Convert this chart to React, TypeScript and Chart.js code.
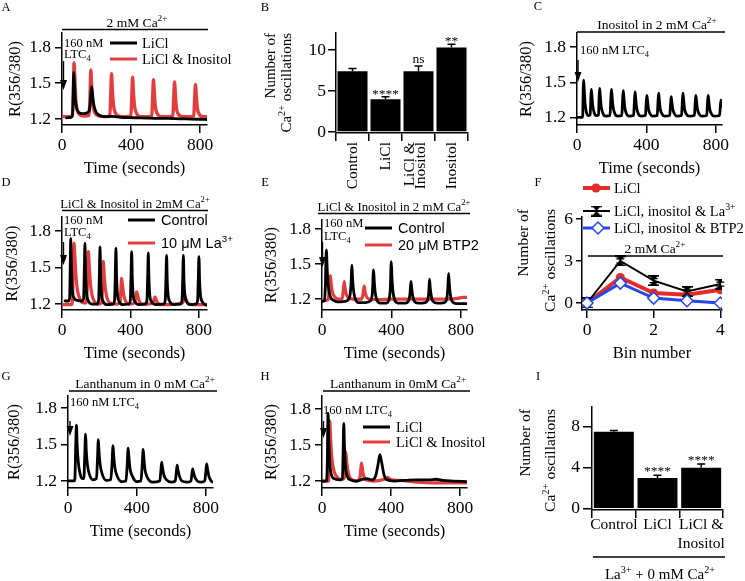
import React, { useEffect, useRef } from "react";
import { Chart, registerables } from "chart.js";

Chart.register(...registerables);

const PAGE_W = 745;
const PAGE_H = 581;
const SERIF = '"Liberation Serif", "Times New Roman", serif';
const SANS = '"Liberation Sans", Arial, sans-serif';
const BLACK = "#000000";
const TRACE_RED = "#e43d3d";
const F_RED = "#e42a2a";
const F_BLUE = "#2846e6";
const TICK_FONT = 17.5;

type Pt = [number, number];

/* ---------------- shared ticks ---------------- */
const TIME_TICKS = [0, 400, 800];
const RATIO_TICKS = [1.2, 1.5, 1.8];

/* ---------------- A ---------------- */
const A_LICL: Pt[] = [
  [27, 1.21], [45, 1.212], [58, 1.22], [63, 1.3], [68, 1.59], [72, 1.5], [77, 1.37], [85, 1.29], [98, 1.255],
  [118, 1.245], [140, 1.25], [157, 1.27], [164, 1.34], [171, 1.47], [176, 1.42], [183, 1.33], [194, 1.27],
  [212, 1.235], [245, 1.22], [290, 1.222], [340, 1.215], [390, 1.212], [440, 1.21], [490, 1.208], [550, 1.205],
  [610, 1.205], [680, 1.202], [750, 1.2], [800, 1.198], [840, 1.196],
];
const A_LICL_INOSITOL: Pt[] = [
  [0, 1.22], [40, 1.22], [61, 1.23], [65, 1.4], [70, 1.67], [75, 1.52], [80, 1.36], [89, 1.27], [100, 1.24],
  [130, 1.225], [157, 1.23], [162, 1.38], [167, 1.61], [172, 1.47], [178, 1.33], [188, 1.26], [200, 1.235],
  [240, 1.22], [277, 1.225], [282, 1.38], [287, 1.58], [292, 1.44], [298, 1.32], [309, 1.25], [330, 1.225],
  [370, 1.22], [399, 1.225], [404, 1.37], [409, 1.55], [414, 1.42], [420, 1.31], [431, 1.25], [455, 1.22],
  [500, 1.22], [520, 1.225], [525, 1.37], [530, 1.53], [535, 1.41], [541, 1.3], [552, 1.245], [575, 1.22],
  [620, 1.22], [642, 1.225], [647, 1.36], [652, 1.51], [657, 1.4], [663, 1.29], [674, 1.24], [700, 1.22],
  [745, 1.22], [763, 1.225], [768, 1.35], [773, 1.49], [778, 1.39], [784, 1.29], [795, 1.24], [815, 1.22],
  [840, 1.22],
];

/* ---------------- B ---------------- */
const B_CATEGORIES = ["Control", "LiCl", "LiCl & Inositol", "Inositol"];
const B_LABEL_LINES = [["Control"], ["LiCl"], ["LiCl &", "Inositol"], ["Inositol"]];
const B_MEANS = [7.4, 4.0, 7.4, 10.3];
const B_ERRORS = [0.35, 0.3, 0.65, 0.4];
const B_MARKS = ["", "****", "ns", "**"];
const B_TICKS = [0, 5, 10];

/* ---------------- C ---------------- */
const C_INOSITOL: Pt[] = [
  [0, 1.205], [30, 1.205], [33, 1.22], [36, 1.45], [38, 1.52], [41, 1.46], [46, 1.33], [54, 1.25], [64, 1.22],
  [76, 1.225], [79, 1.33], [82, 1.44], [85, 1.4], [91, 1.3], [100, 1.24], [112, 1.22], [124, 1.225], [127, 1.35],
  [130, 1.45], [133, 1.41], [139, 1.3], [149, 1.24], [165, 1.215], [190, 1.22], [194, 1.33], [198, 1.44],
  [201, 1.4], [207, 1.3], [217, 1.24], [233, 1.215], [258, 1.22], [262, 1.33], [266, 1.43], [269, 1.39],
  [275, 1.29], [285, 1.235], [301, 1.215], [326, 1.22], [330, 1.32], [334, 1.42], [337, 1.38], [343, 1.29],
  [353, 1.235], [369, 1.215], [394, 1.22], [398, 1.31], [402, 1.39], [405, 1.36], [411, 1.28], [421, 1.235],
  [437, 1.215], [462, 1.22], [466, 1.32], [470, 1.41], [473, 1.37], [479, 1.28], [489, 1.235], [505, 1.215],
  [534, 1.22], [538, 1.3], [542, 1.38], [545, 1.35], [551, 1.28], [561, 1.235], [577, 1.215], [602, 1.22],
  [606, 1.32], [610, 1.41], [613, 1.37], [619, 1.28], [629, 1.235], [645, 1.215], [676, 1.22], [680, 1.31],
  [684, 1.39], [687, 1.36], [693, 1.28], [703, 1.235], [719, 1.215], [747, 1.22], [751, 1.31], [755, 1.39],
  [758, 1.36], [764, 1.28], [774, 1.235], [790, 1.215], [821, 1.22], [825, 1.29], [829, 1.35], [832, 1.33],
  [835, 1.3],
];

/* ---------------- D ---------------- */
const D_CONTROL: Pt[] = [
  [18, 1.225], [40, 1.225], [45, 1.26], [48, 1.5], [51, 1.74], [55, 1.5], [60, 1.32], [70, 1.25], [90, 1.23],
  [115, 1.225], [126, 1.24], [130, 1.45], [134, 1.7], [138, 1.45], [143, 1.3], [153, 1.23], [175, 1.2],
  [205, 1.2], [214, 1.23], [218, 1.42], [222, 1.67], [226, 1.42], [231, 1.28], [241, 1.22], [265, 1.195],
  [298, 1.2], [307, 1.23], [311, 1.42], [315, 1.66], [319, 1.42], [324, 1.28], [334, 1.22], [358, 1.195],
  [390, 1.2], [399, 1.23], [403, 1.42], [407, 1.63], [411, 1.4], [416, 1.27], [426, 1.22], [450, 1.195],
  [487, 1.2], [496, 1.23], [500, 1.4], [504, 1.62], [508, 1.4], [513, 1.27], [523, 1.22], [550, 1.195],
  [594, 1.2], [603, 1.23], [607, 1.4], [611, 1.6], [615, 1.38], [620, 1.27], [630, 1.22], [655, 1.195],
  [692, 1.2], [701, 1.23], [705, 1.4], [709, 1.6], [713, 1.38], [718, 1.27], [728, 1.22], [750, 1.195],
  [783, 1.2], [792, 1.23], [796, 1.4], [800, 1.59], [804, 1.38], [809, 1.27], [819, 1.22], [845, 1.19],
];
const D_LANTHANUM: Pt[] = [
  [0, 1.195], [55, 1.195], [62, 1.25], [66, 1.55], [70, 1.7], [75, 1.6], [82, 1.42], [92, 1.3], [105, 1.24],
  [125, 1.21], [142, 1.21], [148, 1.35], [154, 1.63], [159, 1.52], [166, 1.37], [176, 1.27], [190, 1.22],
  [215, 1.2], [232, 1.21], [237, 1.35], [241, 1.55], [246, 1.45], [253, 1.33], [263, 1.25], [280, 1.21],
  [320, 1.2], [340, 1.22], [344, 1.32], [348, 1.41], [353, 1.36], [360, 1.28], [372, 1.22], [395, 1.2],
  [425, 1.21], [431, 1.26], [436, 1.3], [442, 1.27], [450, 1.23], [465, 1.2], [500, 1.2], [532, 1.21],
  [538, 1.24], [543, 1.26], [549, 1.24], [558, 1.21], [580, 1.195], [620, 1.195], [660, 1.2], [705, 1.21],
  [712, 1.24], [718, 1.27], [724, 1.24], [733, 1.21], [760, 1.195], [800, 1.195], [845, 1.195],
];

/* ---------------- E ---------------- */
const E_CONTROL: Pt[] = [
  [0, 1.18], [15, 1.185], [19, 1.3], [25, 1.62], [30, 1.45], [37, 1.3], [48, 1.22], [65, 1.19], [90, 1.175],
  [130, 1.18], [155, 1.2], [163, 1.25], [168, 1.35], [172, 1.49], [176, 1.38], [182, 1.27], [192, 1.2],
  [210, 1.17], [250, 1.17], [280, 1.185], [290, 1.25], [297, 1.45], [301, 1.35], [307, 1.25], [317, 1.19],
  [335, 1.165], [370, 1.165], [385, 1.19], [393, 1.28], [399, 1.52], [403, 1.38], [409, 1.26], [419, 1.19],
  [440, 1.165], [480, 1.165], [500, 1.19], [507, 1.25], [512, 1.35], [516, 1.3], [522, 1.23], [532, 1.18],
  [555, 1.165], [595, 1.17], [610, 1.2], [615, 1.26], [619, 1.37], [623, 1.3], [629, 1.23], [639, 1.18],
  [665, 1.165], [705, 1.17], [718, 1.2], [724, 1.28], [729, 1.42], [733, 1.33], [739, 1.24], [749, 1.18],
  [775, 1.16], [835, 1.16],
];
const E_BTP2: Pt[] = [
  [0, 1.19], [30, 1.19], [38, 1.22], [44, 1.33], [48, 1.4], [53, 1.33], [60, 1.26], [72, 1.22], [95, 1.2],
  [115, 1.2], [121, 1.25], [128, 1.35], [133, 1.29], [140, 1.24], [152, 1.21], [180, 1.2], [228, 1.2],
  [235, 1.23], [243, 1.31], [248, 1.26], [256, 1.22], [270, 1.2], [320, 1.195], [400, 1.2], [480, 1.2],
  [560, 1.2], [640, 1.2], [720, 1.2], [780, 1.205], [810, 1.215], [835, 1.215],
];

/* ---------------- F ---------------- */
const F_BINS = [0, 1, 2, 3, 4];
const F_LICL = [0, 1.82, 0.71, 0.59, 0.94];
const F_LA = [0, 3.0, 1.6, 0.82, 1.35];
const F_LA_ERR = [0.05, 0.15, 0.14, 0.12, 0.14];
const F_BTP2 = [0, 1.42, 0.35, 0.16, 0.0];
const F_X_TICKS = [0, 2, 4];
const F_Y_TICKS = [0, 3, 6];

/* ---------------- G ---------------- */
const G_LANTHANUM: Pt[] = [
  [2, 1.2], [35, 1.2], [40, 1.22], [45, 1.5], [49, 1.66], [53, 1.5], [60, 1.35], [70, 1.26], [82, 1.22],
  [92, 1.22], [97, 1.4], [102, 1.585], [106, 1.45], [113, 1.33], [125, 1.25], [145, 1.21], [165, 1.22],
  [171, 1.38], [176, 1.54], [180, 1.44], [187, 1.33], [200, 1.25], [222, 1.205], [248, 1.21], [255, 1.33],
  [261, 1.49], [265, 1.41], [272, 1.31], [285, 1.24], [310, 1.195], [336, 1.2], [343, 1.32], [349, 1.47],
  [353, 1.4], [360, 1.3], [373, 1.24], [398, 1.195], [423, 1.2], [430, 1.32], [436, 1.46], [440, 1.39],
  [447, 1.29], [460, 1.23], [490, 1.19], [532, 1.2], [538, 1.27], [543, 1.355], [548, 1.31], [556, 1.25],
  [570, 1.21], [600, 1.19], [622, 1.2], [628, 1.27], [633, 1.33], [638, 1.29], [646, 1.24], [660, 1.2],
  [690, 1.19], [713, 1.2], [718, 1.25], [723, 1.3], [728, 1.27], [736, 1.23], [750, 1.2], [775, 1.19],
  [793, 1.2], [799, 1.27], [804, 1.34], [809, 1.3], [817, 1.24], [830, 1.2], [841, 1.19],
];

/* ---------------- H ---------------- */
const H_LICL: Pt[] = [
  [0, 1.2], [25, 1.2], [30, 1.3], [35, 1.765], [39, 1.55], [45, 1.35], [55, 1.25], [70, 1.22], [100, 1.21],
  [118, 1.22], [122, 1.4], [126, 1.68], [130, 1.5], [136, 1.32], [146, 1.24], [165, 1.21], [200, 1.2],
  [240, 1.215], [260, 1.22], [290, 1.21], [310, 1.24], [325, 1.34], [335, 1.42], [345, 1.36], [358, 1.26],
  [375, 1.21], [420, 1.2], [480, 1.205], [550, 1.21], [620, 1.21], [660, 1.215], [700, 1.205], [760, 1.2],
  [840, 1.195],
];
const H_LICL_INOSITOL: Pt[] = [
  [0, 1.2], [38, 1.2], [42, 1.45], [45, 1.7], [50, 1.55], [58, 1.38], [70, 1.28], [90, 1.23], [110, 1.21],
  [130, 1.23], [134, 1.35], [138, 1.44], [143, 1.36], [152, 1.27], [165, 1.22], [200, 1.2], [220, 1.23],
  [225, 1.3], [229, 1.35], [234, 1.3], [242, 1.24], [255, 1.21], [300, 1.2], [360, 1.215], [380, 1.23],
  [400, 1.21], [450, 1.205], [500, 1.2], [560, 1.19], [650, 1.185], [750, 1.185], [840, 1.185],
];

/* ---------------- I ---------------- */
const I_CATEGORIES = ["Control", "LiCl", "LiCl & Inositol"];
const I_LABEL_LINES = [["Control"], ["LiCl"], ["LiCl &", "Inositol"]];
const I_MEANS = [7.5, 3.0, 4.0];
const I_ERRORS = [0.12, 0.25, 0.35];
const I_MARKS = ["", "****", "****"];
const I_TICKS = [0, 4, 8];

/* ================= drawing helpers ================= */
type Seg = { t: string; k: number };
function parseRich(s: string): Seg[] {
  const out: Seg[] = [];
  const re = /(\^|_)\{([^}]*)\}/g;
  let last = 0;
  let m: RegExpExecArray | null;
  while ((m = re.exec(s))) {
    if (m.index > last) out.push({ t: s.slice(last, m.index), k: 0 });
    out.push({ t: m[2], k: m[1] === "^" ? 1 : -1 });
    last = re.lastIndex;
  }
  if (last < s.length) out.push({ t: s.slice(last), k: 0 });
  return out;
}

function drawRich(
  ctx: CanvasRenderingContext2D, s: string, x: number, baseline: number, size: number,
  fam: string = SERIF, align: string = "left", color: string = BLACK
) {
  const segs = parseRich(s);
  const sizes = segs.map((g) => (g.k ? size * 0.68 : size));
  let total = 0;
  segs.forEach((g, i) => {
    ctx.font = `${sizes[i]}px ${fam}`;
    total += ctx.measureText(g.t).width;
  });
  let cx = align === "left" ? x : align === "center" ? x - total / 2 : x - total;
  ctx.save();
  ctx.fillStyle = color;
  ctx.textAlign = "left";
  ctx.textBaseline = "alphabetic";
  segs.forEach((g, i) => {
    ctx.font = `${sizes[i]}px ${fam}`;
    const dy = g.k === 1 ? -size * 0.42 : g.k === -1 ? size * 0.2 : 0;
    ctx.fillText(g.t, cx, baseline + dy);
    cx += ctx.measureText(g.t).width;
  });
  ctx.restore();
}
function textC(ctx: CanvasRenderingContext2D, s: string, x: number, cy: number, size: number, fam = SERIF, align = "left") {
  drawRich(ctx, s, x, cy + size * 0.33, size, fam, align);
}
function textRot(ctx: CanvasRenderingContext2D, s: string, x: number, y: number, size: number, align = "center", fam = SERIF) {
  ctx.save();
  ctx.translate(x, y);
  ctx.rotate(-Math.PI / 2);
  drawRich(ctx, s, 0, size * 0.33, size, fam, align);
  ctx.restore();
}
function hline(ctx: CanvasRenderingContext2D, x1: number, x2: number, y: number, w = 1.5, color = BLACK) {
  ctx.save();
  ctx.strokeStyle = color;
  ctx.lineWidth = w;
  ctx.beginPath();
  ctx.moveTo(x1, y);
  ctx.lineTo(x2, y);
  ctx.stroke();
  ctx.restore();
}
function arrowDown(ctx: CanvasRenderingContext2D, x: number, y1: number, y2: number) {
  ctx.save();
  ctx.strokeStyle = BLACK;
  ctx.fillStyle = BLACK;
  ctx.lineWidth = 1.4;
  ctx.beginPath();
  ctx.moveTo(x, y1);
  ctx.lineTo(x, y2 - 8);
  ctx.stroke();
  ctx.beginPath();
  ctx.moveTo(x - 3.5, y2 - 10);
  ctx.lineTo(x + 3.5, y2 - 10);
  ctx.lineTo(x, y2);
  ctx.closePath();
  ctx.fill();
  ctx.restore();
}
function letter(ctx: CanvasRenderingContext2D, t: string, cx: number, cy: number) {
  textC(ctx, t, cx, cy, 12.5, SERIF, "center");
}
function titleBar(ctx: CanvasRenderingContext2D, s: string, cx: number, baseline: number, x1: number, x2: number, ly: number, size = 13) {
  drawRich(ctx, s, cx, baseline, size, SERIF, "center");
  hline(ctx, x1, x2, ly, 1.5);
}
function timeTitle(ctx: CanvasRenderingContext2D, a: Area) {
  textC(ctx, "Time (seconds)", (a.L + a.R) / 2, a.B + 43, 16.5, SERIF, "center");
}
function ratioTitle(ctx: CanvasRenderingContext2D, x: number, a: Area) {
  textRot(ctx, "R(356/380)", x, (a.T + a.B) / 2, 16.5, "center");
}
function legendItem(ctx: CanvasRenderingContext2D, x1: number, x2: number, y: number, color: string, label: string, tx: number, size: number, fam: string) {
  hline(ctx, x1, x2, y, 3, color);
  textC(ctx, label, tx, y, size, fam, "left");
}
function errBars(ctx: CanvasRenderingContext2D, chart: any, means: number[], errs: number[], cap: number) {
  const xs = chart.scales.x;
  const ys = chart.scales.y;
  ctx.save();
  ctx.strokeStyle = BLACK;
  ctx.lineWidth = 1.5;
  means.forEach((m, i) => {
    const px = xs.getPixelForValue(i);
    const y0 = ys.getPixelForValue(m);
    const y1 = ys.getPixelForValue(m + errs[i]);
    ctx.beginPath();
    ctx.moveTo(px, y0);
    ctx.lineTo(px, y1);
    ctx.moveTo(px - cap / 2, y1);
    ctx.lineTo(px + cap / 2, y1);
    ctx.stroke();
  });
  ctx.restore();
}
function sigMarks(ctx: CanvasRenderingContext2D, chart: any, means: number[], errs: number[], marks: string[], size: number, gap: number) {
  const xs = chart.scales.x;
  const ys = chart.scales.y;
  marks.forEach((mk, i) => {
    if (!mk) return;
    const px = xs.getPixelForValue(i);
    const cy = ys.getPixelForValue(means[i] + errs[i]) - gap;
    const off = mk.includes("*") ? size * 0.52 : size * 0.24;
    drawRich(ctx, mk, px, cy + off, size, SERIF, "center");
  });
}

/* ================= chart config builders ================= */
const YW = 50;
const XH = 40;
type Area = { L: number; T: number; R: number; B: number };

function pad(a: Area) {
  return { left: a.L - YW, top: a.T, right: PAGE_W - a.R, bottom: PAGE_H - a.B - XH };
}
function axisStyle(tickLen: number, tickPad: number, fontSize: number) {
  return {
    border: { display: true, color: BLACK, width: 1.5 },
    grid: { display: true, drawOnChartArea: false, drawTicks: true, tickLength: tickLen, color: BLACK, lineWidth: 1.5 },
    ticks: { color: BLACK, padding: tickPad, font: { family: SERIF, size: fontSize }, maxRotation: 0, minRotation: 0, autoSkip: false },
  };
}
function linAxis(min: number, max: number, vals: number[], tickLen: number, tickPad: number, fontSize: number, fmt: (v: number) => string, horizontal: boolean) {
  const st = axisStyle(tickLen, tickPad, fontSize);
  return {
    type: "linear",
    bounds: "data",
    min,
    max,
    border: st.border,
    grid: st.grid,
    ticks: { ...st.ticks, callback: (v: any) => fmt(Number(v)) },
    afterBuildTicks: (ax: any) => {
      ax.ticks = vals.map((value) => ({ value }));
    },
    afterFit: (ax: any) => {
      if (horizontal) ax.height = XH;
      else ax.width = YW;
    },
  };
}
const baseOptions = (a: Area) => ({
  animation: false,
  responsive: false,
  maintainAspectRatio: false,
  devicePixelRatio: 1,
  events: [],
  layout: { padding: pad(a) },
  plugins: { legend: { display: false }, tooltip: { enabled: false }, title: { display: false } },
});

type Series = { data: Pt[]; color: string; width: number };
function traceChart(a: Area, xMax: number, yMin: number, yMax: number, series: Series[], deco: (ctx: CanvasRenderingContext2D, c: any) => void) {
  return {
    type: "line",
    data: {
      datasets: series.map((s) => ({
        data: s.data.map(([x, y]) => ({ x, y })),
        borderColor: s.color,
        borderWidth: s.width,
        pointRadius: 0,
        pointHoverRadius: 0,
        cubicInterpolationMode: "monotone",
        borderJoinStyle: "round",
        borderCapStyle: "round",
        fill: false,
      })),
    },
    options: {
      ...baseOptions(a),
      scales: {
        x: linAxis(0, xMax, TIME_TICKS, 8, 2, TICK_FONT, (v) => String(v), true),
        y: linAxis(yMin, yMax, RATIO_TICKS, 7, 4, TICK_FONT, (v) => v.toFixed(1), false),
      },
    },
    plugins: [{ id: "deco", afterDraw: (c: any) => deco(c.ctx, c) }],
  };
}
function barChart(a: Area, cats: string[], means: number[], yMin: number, yMax: number, yTicks: number[], barPct: number, yTl: number, yPad: number, deco: (ctx: CanvasRenderingContext2D, c: any) => void) {
  const st = axisStyle(8, 2, TICK_FONT);
  return {
    type: "bar",
    data: {
      labels: cats,
      datasets: [{ data: means, backgroundColor: BLACK, borderWidth: 0, barPercentage: barPct, categoryPercentage: 1 }],
    },
    options: {
      ...baseOptions(a),
      scales: {
        x: {
          type: "category",
          offset: true,
          border: st.border,
          grid: { ...st.grid, offset: true },
          ticks: { display: false },
          afterFit: (ax: any) => {
            ax.height = XH;
          },
        },
        y: linAxis(yMin, yMax, yTicks, yTl, yPad, TICK_FONT, (v) => String(v), false),
      },
    },
    plugins: [{ id: "deco", afterDraw: (c: any) => deco(c.ctx, c) }],
  };
}

/* ================= panels ================= */
function cfgA() {
  const a = { L: 62, T: 33, R: 207, B: 125 };
  return traceChart(a, 840, 1.15, 1.92, [
    { data: A_LICL, color: BLACK, width: 2.8 },
    { data: A_LICL_INOSITOL, color: TRACE_RED, width: 3.4 },
  ], (ctx) => {
    letter(ctx, "A", 6, 7);
    titleBar(ctx, "2 mM Ca^{2+}", 137, 26.5, 62, 208, 29.5, 13.5);
    ratioTitle(ctx, 15, a);
    timeTitle(ctx, a);
    textC(ctx, "160 nM", 64, 43, 12.5);
    textC(ctx, "LTC_{4}", 64, 54, 12.5);
    arrowDown(ctx, 63.5, 61, 90);
    legendItem(ctx, 110, 137, 43, BLACK, "LiCl", 142, 14.5, SERIF);
    legendItem(ctx, 110, 137, 59, TRACE_RED, "LiCl & Inositol", 142, 14.5, SERIF);
  });
}

function cfgB() {
  const a = { L: 336, T: 33, R: 468, B: 133 };
  return barChart(a, B_CATEGORIES, B_MEANS, -0.12, 12.07, B_TICKS, 0.91, 8, 2, (ctx, c) => {
    letter(ctx, "B", 265, 7);
    errBars(ctx, c, B_MEANS, B_ERRORS, 8);
    sigMarks(ctx, c, B_MEANS, B_ERRORS, B_MARKS, 13.5, 6);
    textRot(ctx, "Number of", 270, 33, 15, "right");
    textRot(ctx, "Ca^{2+} oscillations", 286, 33, 15, "right");
    const xs = c.scales.x;
    B_LABEL_LINES.forEach((lines, i) => {
      const px = xs.getPixelForValue(i);
      const offs = lines.length === 1 ? [-1] : [-10, 1.5];
      lines.forEach((ln, j) => textRot(ctx, ln, px + offs[j], 142, 15.5, "right"));
    });
  });
}

function cfgC() {
  const a = { L: 577, T: 33, R: 722, B: 125 };
  return traceChart(a, 835, 1.14, 1.918, [{ data: C_INOSITOL, color: BLACK, width: 2.8 }], (ctx) => {
    letter(ctx, "C", 538, 6);
    titleBar(ctx, "Inositol in 2 mM Ca^{2+}", 657, 28.5, 577, 725, 32, 13.5);
    ratioTitle(ctx, 526, a);
    timeTitle(ctx, a);
    textC(ctx, "160 nM LTC_{4}", 580, 50, 12.5);
    arrowDown(ctx, 578, 60, 82);
  });
}

function cfgD() {
  const a = { L: 62, T: 217, R: 207, B: 310 };
  return traceChart(a, 847, 1.151, 1.915, [
    { data: D_CONTROL, color: BLACK, width: 2.8 },
    { data: D_LANTHANUM, color: TRACE_RED, width: 3.2 },
  ], (ctx) => {
    letter(ctx, "D", 6, 182);
    titleBar(ctx, "LiCl & Inositol in 2mM Ca^{2+}", 135, 207.5, 62, 208, 210.5, 12.8);
    ratioTitle(ctx, 12, a);
    timeTitle(ctx, a);
    textC(ctx, "160 nM", 64, 220, 12.5);
    textC(ctx, "LTC_{4}", 64, 232, 12.5);
    arrowDown(ctx, 63.5, 242, 265);
    legendItem(ctx, 128, 155, 220, BLACK, "Control", 161, 14.5, SANS);
    legendItem(ctx, 128, 155, 243, TRACE_RED, "10 μM La^{3+}", 161, 14.5, SANS);
  });
}

function cfgE() {
  const a = { L: 322, T: 220, R: 467, B: 310 };
  return traceChart(a, 835, 1.106, 1.877, [
    { data: E_CONTROL, color: BLACK, width: 2.8 },
    { data: E_BTP2, color: TRACE_RED, width: 3.2 },
  ], (ctx) => {
    letter(ctx, "E", 265, 182);
    titleBar(ctx, "LiCl & Inositol in 2 mM Ca^{2+}", 394, 210.5, 318, 470, 213.5, 12.8);
    ratioTitle(ctx, 271, a);
    timeTitle(ctx, a);
    textC(ctx, "160 nM", 324, 223, 12.5);
    textC(ctx, "LTC_{4}", 324, 236, 12.5);
    arrowDown(ctx, 322.5, 242, 267);
    legendItem(ctx, 365, 392, 228, BLACK, "Control", 398, 14.5, SANS);
    legendItem(ctx, 365, 392, 245, TRACE_RED, "20 μM BTP2", 398, 14.5, SANS);
  });
}

function makeHourglass(): HTMLCanvasElement {
  const c = document.createElement("canvas");
  c.width = 11;
  c.height = 11;
  const g = c.getContext("2d")!;
  g.fillStyle = BLACK;
  g.fillRect(0, 0, 11, 1.6);
  g.fillRect(0, 9.4, 11, 1.6);
  g.beginPath();
  g.moveTo(1.5, 1);
  g.lineTo(9.5, 1);
  g.lineTo(5.5, 5.5);
  g.closePath();
  g.fill();
  g.beginPath();
  g.moveTo(1.5, 10);
  g.lineTo(9.5, 10);
  g.lineTo(5.5, 5.5);
  g.closePath();
  g.fill();
  return c;
}

function cfgF() {
  const a = { L: 582, T: 217, R: 722, B: 310 };
  const hg = makeHourglass();
  const pts = (ys: number[]) => F_BINS.map((x, i) => ({ x, y: ys[i] }));
  return {
    type: "line",
    data: {
      datasets: [
        { data: pts(F_BTP2), borderColor: F_BLUE, borderWidth: 3, pointStyle: "rectRot", pointRadius: 6, pointBackgroundColor: "#ffffff", pointBorderColor: F_BLUE, pointBorderWidth: 1.5, tension: 0 },
        { data: pts(F_LA), borderColor: BLACK, borderWidth: 2, pointStyle: hg, pointRadius: 5, tension: 0 },
        { data: pts(F_LICL), borderColor: F_RED, borderWidth: 4, pointStyle: "circle", pointRadius: 4.5, pointBackgroundColor: F_RED, pointBorderColor: F_RED, pointBorderWidth: 0, tension: 0 },
      ],
    },
    options: {
      ...baseOptions(a),
      scales: {
        x: linAxis(-0.15, 4.05, F_X_TICKS, 8, 2, TICK_FONT, (v) => String(v), true),
        y: linAxis(-0.5, 6.14, F_Y_TICKS, 6, 3, TICK_FONT, (v) => String(v), false),
      },
    },
    plugins: [{
      id: "deco",
      beforeDatasetsDraw: (c: any) => {
        const ctx = c.ctx;
        const xs = c.scales.x;
        const ys = c.scales.y;
        ctx.save();
        ctx.strokeStyle = BLACK;
        ctx.lineWidth = 1.2;
        F_BINS.forEach((b, i) => {
          const px = xs.getPixelForValue(b);
          const y1 = ys.getPixelForValue(F_LA[i] + F_LA_ERR[i]);
          const y2 = ys.getPixelForValue(F_LA[i] - F_LA_ERR[i]);
          ctx.beginPath();
          ctx.moveTo(px, y1);
          ctx.lineTo(px, y2);
          ctx.moveTo(px - 4, y1);
          ctx.lineTo(px + 4, y1);
          ctx.moveTo(px - 4, y2);
          ctx.lineTo(px + 4, y2);
          ctx.stroke();
        });
        ctx.restore();
      },
      afterDraw: (c: any) => {
        const ctx = c.ctx as CanvasRenderingContext2D;
        letter(ctx, "F", 538, 182);
        hline(ctx, 583, 610, 188, 4, F_RED);
        ctx.save();
        ctx.fillStyle = F_RED;
        ctx.beginPath();
        ctx.arc(596, 188, 4.5, 0, Math.PI * 2);
        ctx.fill();
        ctx.restore();
        textC(ctx, "LiCl", 614, 188, 14.5);
        hline(ctx, 583, 610, 211, 2, BLACK);
        ctx.drawImage(hg, 591, 205.5);
        textC(ctx, "LiCl, inositol & La^{3+}", 614, 211, 14.5);
        hline(ctx, 583, 610, 228, 3, F_BLUE);
        ctx.save();
        ctx.fillStyle = "#ffffff";
        ctx.strokeStyle = F_BLUE;
        ctx.lineWidth = 1.5;
        ctx.beginPath();
        ctx.moveTo(598, 222);
        ctx.lineTo(604, 228);
        ctx.lineTo(598, 234);
        ctx.lineTo(592, 228);
        ctx.closePath();
        ctx.fill();
        ctx.stroke();
        ctx.restore();
        textC(ctx, "LiCl, inositol & BTP2", 614, 228, 14.5);
        titleBar(ctx, "2 mM Ca^{2+}", 655, 253, 588, 723, 256, 13.5);
        textRot(ctx, "Number of", 523, 209, 15.5, "right");
        textRot(ctx, "Ca^{2+} oscillations", 550, 209, 15.5, "right");
        textC(ctx, "Bin number", (a.L + a.R) / 2, 353, 16.5, SERIF, "center");
      },
    }],
  };
}

function cfgG() {
  const a = { L: 68, T: 396, R: 213, B: 488 };
  return traceChart(a, 841, 1.142, 1.899, [{ data: G_LANTHANUM, color: BLACK, width: 2.8 }], (ctx) => {
    letter(ctx, "G", 6, 376);
    titleBar(ctx, "Lanthanum in 0 mM Ca^{2+}", 145, 388, 69, 217, 391, 13.5);
    ratioTitle(ctx, 14, a);
    timeTitle(ctx, a);
    textC(ctx, "160 nM LTC_{4}", 70, 402, 12.5);
    arrowDown(ctx, 70, 421, 436);
  });
}

function cfgH() {
  const a = { L: 322, T: 396, R: 467, B: 488 };
  return traceChart(a, 840, 1.142, 1.908, [
    { data: H_LICL, color: BLACK, width: 2.8 },
    { data: H_LICL_INOSITOL, color: TRACE_RED, width: 3.2 },
  ], (ctx) => {
    letter(ctx, "H", 265, 376);
    titleBar(ctx, "Lanthanum in 0mM Ca^{2+}", 398, 388, 323, 470, 391, 13.5);
    ratioTitle(ctx, 271, a);
    timeTitle(ctx, a);
    textC(ctx, "160 nM LTC_{4}", 323, 410, 12.5);
    arrowDown(ctx, 323.5, 421, 438);
    legendItem(ctx, 363, 390, 427, BLACK, "LiCl", 396, 14.5, SERIF);
    legendItem(ctx, 363, 390, 442, TRACE_RED, "LiCl & Inositol", 396, 14.5, SERIF);
  });
}

function cfgI() {
  const a = { L: 592, T: 407, R: 723, B: 510 };
  return barChart(a, I_CATEGORIES, I_MEANS, -0.12, 9.9, I_TICKS, 0.915, 9, 3, (ctx, c) => {
    letter(ctx, "I", 538, 376);
    errBars(ctx, c, I_MEANS, I_ERRORS, 8);
    sigMarks(ctx, c, I_MEANS, I_ERRORS, I_MARKS, 13.5, 7);
    textRot(ctx, "Number of", 525, 409, 15.5, "right");
    textRot(ctx, "Ca^{2+} oscillations", 550, 409, 15.5, "right");
    const xs = c.scales.x;
    I_LABEL_LINES.forEach((lines, i) => {
      const px = xs.getPixelForValue(i);
      lines.forEach((ln, j) => textC(ctx, ln, px, 524 + j * 18.5, 15.5, SERIF, "center"));
    });
    hline(ctx, 593, 725, 557, 1.5);
    drawRich(ctx, "La^{3+} + 0 mM Ca^{2+}", 660, 579, 15, SERIF, "center");
  });
}

/* ================= component ================= */
export default function App() {
  const refs = useRef<(HTMLCanvasElement | null)[]>([]);
  useEffect(() => {
    Chart.defaults.font.family = SERIF;
    Chart.defaults.color = BLACK;
    const cfgs = [cfgA(), cfgB(), cfgC(), cfgD(), cfgE(), cfgF(), cfgG(), cfgH(), cfgI()];
    const charts = cfgs.map((cfg, i) => new Chart(refs.current[i] as HTMLCanvasElement, cfg as any));
    return () => charts.forEach((c) => c.destroy());
  }, []);
  return (
    <div style={{ position: "fixed", left: 0, top: 0, width: PAGE_W, height: PAGE_H, background: "#ffffff", overflow: "hidden" }}>
      {Array.from({ length: 9 }).map((_, i) => (
        <canvas
          key={i}
          ref={(el) => {
            refs.current[i] = el;
          }}
          width={PAGE_W}
          height={PAGE_H}
          style={{ position: "absolute", left: 0, top: 0, width: PAGE_W, height: PAGE_H }}
        />
      ))}
    </div>
  );
}
